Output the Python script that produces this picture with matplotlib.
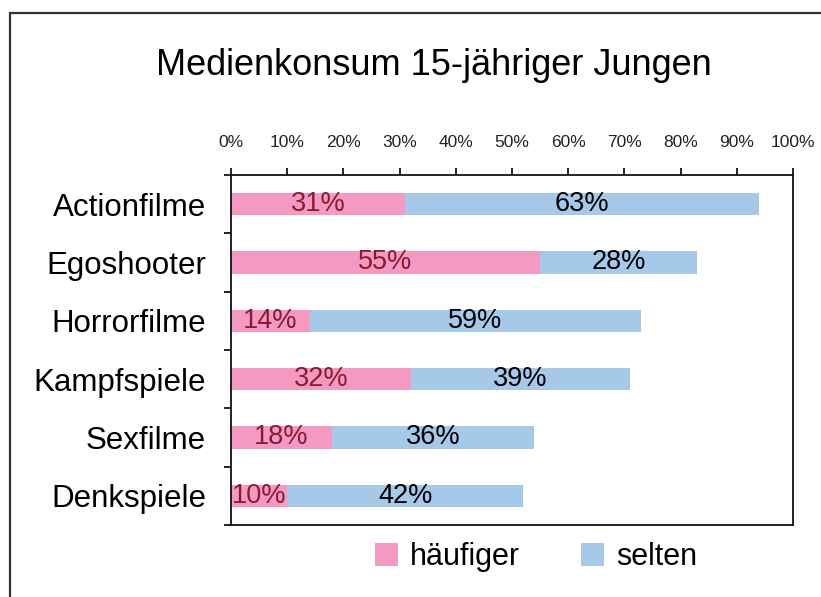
import matplotlib
matplotlib.use("Agg")
from matplotlib import pyplot as plt
from matplotlib.patches import Rectangle
import numpy as np

plt.rcParams['font.family'] = ['Liberation Sans', 'DejaVu Sans']

# data
categories = ['Actionfilme', 'Egoshooter', 'Horrorfilme', 'Kampfspiele', 'Sexfilme', 'Denkspiele']
haeufiger = [31, 55, 14, 32, 18, 10]
selten = [63, 28, 59, 39, 36, 42]
xticks = [0, 10, 20, 30, 40, 50, 60, 70, 80, 90, 100]

pink = '#F49AC2'
blue = '#A6C8E9'

fig = plt.figure(figsize=(8.21, 5.97), dpi=100)
ax = fig.add_axes([0.2814, 0.1206, 0.6845, 0.5863])

y = np.arange(len(categories))
h = 0.38
b1 = ax.barh(y, haeufiger, height=h, color=pink, label='häufiger')
b2 = ax.barh(y, selten, left=haeufiger, height=h, color=blue, label='selten')

for i in range(len(categories)):
    ax.text(haeufiger[i] / 2, y[i], f'{haeufiger[i]}%', ha='center', va='center',
            fontsize=19.5, color='#8B1A30')
    ax.text(haeufiger[i] + selten[i] / 2, y[i], f'{selten[i]}%', ha='center', va='center',
            fontsize=19.5, color='black')

ax.set_xlim(0, 100)
ax.set_ylim(len(categories) - 0.5, -0.5)
ax.xaxis.tick_top()
ax.set_xticks(xticks)
ax.set_xticklabels([f'{t}%' for t in xticks], fontsize=12.5, color='#222222')
ax.tick_params(axis='x', direction='out', length=5, width=1.2, pad=13)

ax.set_yticks(y)
ax.set_yticklabels(categories, fontsize=22.5)
ax.tick_params(axis='y', which='major', length=0, pad=18)
ax.set_yticks(np.arange(len(categories) + 1) - 0.5, minor=True)
ax.tick_params(axis='y', which='minor', direction='out', length=5, width=1.2)

for s in ax.spines.values():
    s.set_linewidth(1.3)
    s.set_color('#111111')

fig.legend(handles=[b1, b2], loc='center', bbox_to_anchor=(0.653, 0.067), ncol=2,
           frameon=False, fontsize=22, handlelength=0.75, handleheight=0.75,
           handletextpad=0.4, columnspacing=2.0)

fig.text(0.529, 0.891, 'Medienkonsum 15-jähriger Jungen', ha='center', va='center', fontsize=26)

# outer frame
fig.patches.append(Rectangle((10 / 821, -0.1), 1.2, 1.1 - 13 / 597, transform=fig.transFigure,
                             fill=False, edgecolor='#333333', linewidth=1.6))

fig.savefig('out.png', dpi=100)
